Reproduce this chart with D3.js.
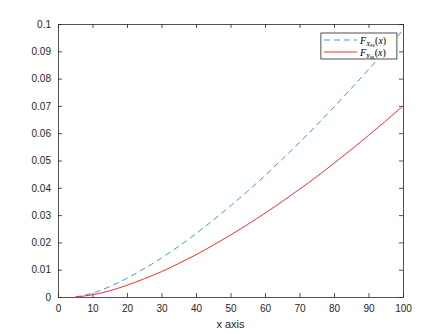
<!DOCTYPE html>
<html>
<head>
<meta charset="utf-8">
<script src="https://cdn.jsdelivr.net/npm/d3@7"></script>
<style>
  body { margin: 0; background: #fff; }
  svg { display: block; font-family: "Liberation Sans", Arial, sans-serif; }
</style>
</head>
<body>
<div id="chart"></div>
<script>
// values
var xVals = [5, 10, 15, 20, 25, 30, 35, 40, 45, 50, 55, 60, 65, 70, 75, 80, 85, 90, 95, 100];
var fX = [0, 0.0014, 0.0038, 0.0069, 0.0104, 0.0143, 0.0186, 0.0232, 0.0282, 0.0334, 0.0388, 0.0445, 0.0505, 0.0566, 0.0630, 0.0696, 0.0764, 0.0833, 0.0905, 0.0978];
var fY = [0, 0.0008, 0.0023, 0.0043, 0.0067, 0.0093, 0.0123, 0.0155, 0.0190, 0.0227, 0.0266, 0.0307, 0.0350, 0.0395, 0.0441, 0.0490, 0.0540, 0.0592, 0.0645, 0.0700];
var xTicks = [0, 10, 20, 30, 40, 50, 60, 70, 80, 90, 100];
var yTicks = [0, 0.01, 0.02, 0.03, 0.04, 0.05, 0.06, 0.07, 0.08, 0.09, 0.1];

var W = 445, H = 334;
var margin = {top: 24, right: 42, bottom: 37, left: 58},
    width = W - margin.left - margin.right,
    height = H - margin.top - margin.bottom;

var svg = d3.select("#chart")
  .append("svg")
    .attr("width", W)
    .attr("height", H)
  .append("g")
    .attr("transform", "translate(" + margin.left + "," + margin.top + ")");

var x = d3.scaleLinear().domain([0, 100]).range([0, width]);
var y = d3.scaleLinear().domain([0, 0.1]).range([height, 0]);

var axisColor = "#262626";

// bottom axis, ticks inward
svg.append("g")
  .attr("transform", "translate(0," + height + ")")
  .call(d3.axisBottom(x).tickValues(xTicks).tickSizeInner(-4).tickSizeOuter(0).tickPadding(8));

// left axis
svg.append("g")
  .call(d3.axisLeft(y).tickValues(yTicks).tickFormat(function (d) { return d3.format("")(+d.toFixed(2)); })
    .tickSizeInner(-4).tickSizeOuter(0).tickPadding(7));

// top and right box with ticks
svg.append("g")
  .call(d3.axisTop(x).tickValues(xTicks).tickSizeInner(-4).tickSizeOuter(0).tickFormat(""));
svg.append("g")
  .attr("transform", "translate(" + width + ",0)")
  .call(d3.axisRight(y).tickValues(yTicks).tickSizeInner(-4).tickSizeOuter(0).tickFormat(""));

svg.selectAll(".domain, .tick line").attr("stroke", axisColor).attr("stroke-width", 0.8);
svg.selectAll(".tick text").attr("fill", axisColor).style("font-size", "10px");

// lines
var line = d3.line()
  .x(function (d, i) { return x(xVals[i]); })
  .y(function (d) { return y(d); })
  .curve(d3.curveMonotoneX);

svg.append("path")
  .datum(fX)
  .attr("fill", "none")
  .attr("stroke", "#3b9ad8")
  .attr("stroke-width", 1)
  .attr("stroke-dasharray", "6,4")
  .attr("d", line);

svg.append("path")
  .datum(fY)
  .attr("fill", "none")
  .attr("stroke", "#ff2a2a")
  .attr("stroke-width", 1)
  .attr("d", line);

// x label
svg.append("text")
  .attr("x", width / 2)
  .attr("y", height + 31)
  .attr("text-anchor", "middle")
  .attr("fill", axisColor)
  .style("font-size", "11px")
  .text("x axis");

// legend
var lg = svg.append("g").attr("transform", "translate(" + (x(76.2)) + "," + 9 + ")");
lg.append("rect")
  .attr("width", 76).attr("height", 26)
  .attr("fill", "#fff").attr("stroke", axisColor).attr("stroke-width", 0.8);

var items = [
  {sub: "X", color: "#3b9ad8", dash: "6,4"},
  {sub: "Y", color: "#ff2a2a", dash: null}
];
items.forEach(function (it, i) {
  var yy = 7 + i * 12;
  lg.append("line")
    .attr("x1", 3).attr("x2", 36).attr("y1", yy).attr("y2", yy)
    .attr("stroke", it.color).attr("stroke-width", 1)
    .attr("stroke-dasharray", it.dash);
  var t = lg.append("text")
    .attr("x", 39).attr("y", yy + 3.5)
    .attr("fill", "#000")
    .style("font-family", "'Liberation Serif', 'DejaVu Serif', serif")
    .style("font-size", "10px")
    .style("font-style", "italic");
  t.append("tspan").text("F");
  t.append("tspan").attr("dy", 2.5).style("font-size", "7px").text(it.sub);
  t.append("tspan").attr("dy", 1).style("font-size", "5.5px").style("font-style", "normal").text("ss");
  t.append("tspan").attr("dy", -3.5).attr("dx", 0.5).style("font-style", "normal").text("(");
  t.append("tspan").text("x");
  t.append("tspan").style("font-style", "normal").text(")");
});
</script>
</body>
</html>
